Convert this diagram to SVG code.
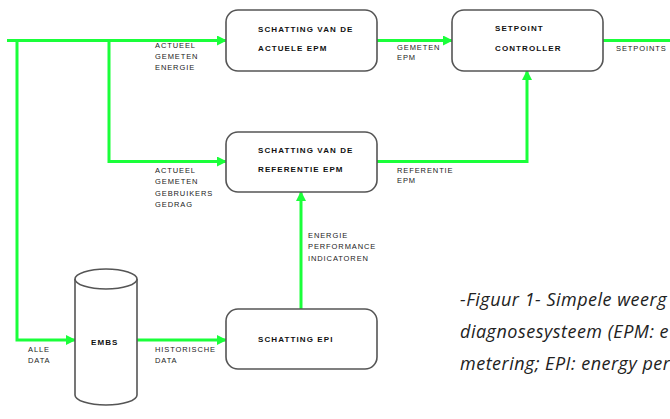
<svg xmlns="http://www.w3.org/2000/svg" width="670" height="419" viewBox="0 0 670 419">
<style>
.box{fill:#fff;stroke:#555;stroke-width:1.6}
.lbl{font-family:"Liberation Sans",Arial,sans-serif;font-size:7.5px;fill:#222;letter-spacing:0.9px}
.nt{font-family:"Liberation Sans",Arial,sans-serif;font-size:8px;font-weight:bold;fill:#111;letter-spacing:1.1px}
.ln{fill:none;stroke:#1aff3a;stroke-width:3}
.cap{font-family:"Open Sans","Noto Sans",sans-serif;font-style:italic;font-size:18px;fill:#222;letter-spacing:0.5px}
</style>
<defs>
<marker id="ah" viewBox="0 0 10 10" refX="9" refY="5" markerWidth="10" markerHeight="10" markerUnits="userSpaceOnUse" orient="auto">
<path d="M0,0 L10,5 L0,10 z" fill="#1aff3a"/>
</marker>
</defs>
<rect width="670" height="419" fill="#fff"/>
<g id="connectors">
<path class="ln" d="M7,40.5 H226" marker-end="url(#ah)"/>
<path class="ln" d="M17,40.5 V340 H75" marker-end="url(#ah)"/>
<path class="ln" d="M109,40.5 V161.5 H226" marker-end="url(#ah)"/>
<path class="ln" d="M377,40.5 H452" marker-end="url(#ah)"/>
<path class="ln" d="M603,40.5 H670"/>
<path class="ln" d="M377,161.5 H527 V71" marker-end="url(#ah)"/>
<path class="ln" d="M301,309 V192" marker-end="url(#ah)"/>
<path class="ln" d="M137,340 H226" marker-end="url(#ah)"/>
<text class="lbl" x="155" y="48">ACTUEEL</text>
<text class="lbl" x="155" y="59">GEMETEN</text>
<text class="lbl" x="155" y="70">ENERGIE</text>
<text class="lbl" x="397" y="50">GEMETEN</text>
<text class="lbl" x="397" y="60">EPM</text>
<text class="lbl" x="616" y="51">SETPOINTS</text>
<text class="lbl" x="397" y="173">REFERENTIE</text>
<text class="lbl" x="397" y="183">EPM</text>
<text class="lbl" x="155" y="173">ACTUEEL</text>
<text class="lbl" x="155" y="184">GEMETEN</text>
<text class="lbl" x="155" y="196">GEBRUIKERS</text>
<text class="lbl" x="155" y="207">GEDRAG</text>
<text class="lbl" x="308" y="238">ENERGIE</text>
<text class="lbl" x="308" y="249">PERFORMANCE</text>
<text class="lbl" x="308" y="261">INDICATOREN</text>
<text class="lbl" x="28" y="352">ALLE</text>
<text class="lbl" x="28" y="363">DATA</text>
<text class="lbl" x="155" y="352">HISTORISCHE</text>
<text class="lbl" x="155" y="363">DATA</text>
</g>
<g id="actuele-epm">
<rect class="box" x="226" y="10" width="151" height="61" rx="12"/>
<text class="nt" x="258" y="32">SCHATTING VAN DE</text>
<text class="nt" x="258" y="51">ACTUELE EPM</text>
</g>
<g id="setpoint-controller">
<rect class="box" x="452" y="10" width="151" height="61" rx="12"/>
<text class="nt" x="495" y="31">SETPOINT</text>
<text class="nt" x="495" y="51">CONTROLLER</text>
</g>
<g id="referentie-epm">
<rect class="box" x="226" y="132" width="151" height="60" rx="12"/>
<text class="nt" x="258" y="153">SCHATTING VAN DE</text>
<text class="nt" x="258" y="172">REFERENTIE EPM</text>
</g>
<g id="schatting-epi">
<rect class="box" x="226" y="309" width="151" height="60" rx="12"/>
<text class="nt" x="258" y="342">SCHATTING EPI</text>
</g>
<g id="embs">
<path class="box" d="M75,279 V395 A31,10 0 0 0 137,395 V279 A31,10 0 0 0 75,279 Z"/>
<path class="box" d="M75,279 A31,10 0 0 0 137,279" fill="none"/>
<text class="nt" x="91" y="345">EMBS</text>
</g>
<g id="caption">
<text class="cap" x="460" y="306">-Figuur 1- Simpele weerg</text>
<text class="cap" x="460" y="338">diagnosesysteem (EPM: e</text>
<text class="cap" x="460" y="370">metering; EPI: energy per</text>
</g>
</svg>
